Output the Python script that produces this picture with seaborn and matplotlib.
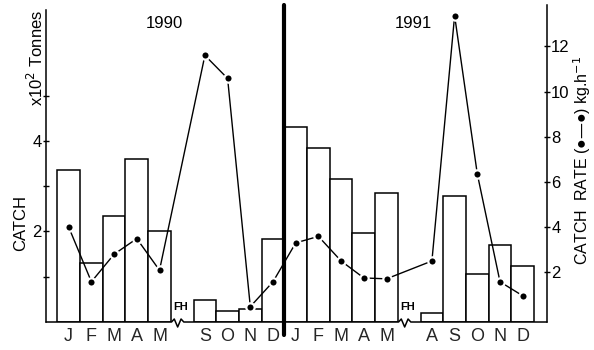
import numpy as np
import pandas as pd
import matplotlib
matplotlib.use("Agg")
import matplotlib.pyplot as plt
import seaborn as sns

sns.set_theme(style="white")
plt.rcParams["font.family"] = ["Liberation Sans", "DejaVu Sans"]

# ---- data ----
periods = ["Jan-90", "Feb-90", "Mar-90", "Apr-90", "May-90", "FH-90",
           "Sep-90", "Oct-90", "Nov-90", "Dec-90",
           "Jan-91", "Feb-91", "Mar-91", "Apr-91", "May-91", "FH-91",
           "Aug-91", "Sep-91", "Oct-91", "Nov-91", "Dec-91"]
month_labels = ["J", "F", "M", "A", "M", "", "S", "O", "N", "D",
                "J", "F", "M", "A", "M", "", "A", "S", "O", "N", "D"]
catch = [3.36, 1.30, 2.35, 3.60, 2.02, np.nan, 0.48, 0.24, 0.29, 1.83,
         4.31, 3.84, 3.15, 1.96, 2.85, np.nan, 0.19, 2.78, 1.05, 1.69, 1.24]
rate = [4.00, 1.58, 2.80, 3.49, 2.09, np.nan, 11.60, 10.58, 0.48, 1.58,
        3.30, 3.59, 2.50, 1.75, 1.71, np.nan, 2.50, 13.36, 6.35, 1.58, 0.96]
fh_periods = ["FH-90", "FH-91"]
year_labels = ["1990", "1991"]
left_ticks = [1, 2, 3, 4, 5]
left_ticklabels = ["", "2", "", "4", ""]
right_ticks = [2, 4, 6, 8, 10, 12]

df = pd.DataFrame({"period": periods, "catch": catch, "rate": rate})
df["idx"] = np.arange(len(df))

fig = plt.figure(figsize=(5.94, 3.5), dpi=100)
ax = fig.add_axes([46 / 594, 1 - 322 / 350, (547 - 46) / 594, 317 / 350])

sns.barplot(data=df, x="period", y="catch", order=periods, color="white",
            edgecolor="black", linewidth=1.1, width=1.0, errorbar=None,
            saturation=1, ax=ax)
for p in list(ax.patches):
    h = p.get_height()
    if h is None or not np.isfinite(h) or h == 0:
        p.remove()
        continue
    p.set_facecolor("white")
    p.set_edgecolor("black")

ax.set_xlim(-1.0, 21.07)
ax.set_ylim(0, 7.0)
ax.set_xticks(df["idx"])
ax.set_xticklabels(month_labels, fontsize=13)
ax.tick_params(axis="x", length=0, pad=4)
ax.set_yticks(left_ticks)
ax.set_yticklabels(left_ticklabels, fontsize=12)
ax.tick_params(axis="y", direction="inout", length=4, width=1, pad=1, left=True,
               color="black", labelcolor="black")
ax.set_xlabel("")
ax.set_ylabel("")
for s in ["top", "right", "bottom"]:
    ax.spines[s].set_visible(False)
ax.spines["left"].set_color("black")
ax.spines["left"].set_linewidth(1.1)
ax.spines["left"].set_bounds(0, 6.88)

ax2 = ax.twinx()
line_df = df.dropna(subset=["rate"])
sns.lineplot(data=line_df, x="idx", y="rate", color="black", linewidth=1.0,
             marker="o", markersize=6, markerfacecolor="black",
             markeredgecolor="white", markeredgewidth=1.6, ax=ax2, sort=True)
ax2.set_ylim(-0.2, 13.83)
ax2.set_xlim(-1.0, 21.07)
ax2.set_yticks(right_ticks)
ax2.set_yticklabels([str(t) for t in right_ticks], fontsize=12)
ax2.tick_params(axis="y", direction="inout", length=4, width=1, pad=1, right=True,
                color="black", labelcolor="black")
ax2.set_xlabel("")
ax2.set_ylabel("")
for s in ["top", "left", "bottom"]:
    ax2.spines[s].set_visible(False)
ax2.spines["right"].set_color("black")
ax2.spines["right"].set_linewidth(1.1)

# baseline with axis breaks (zigzag) at the fishing holiday gaps
tr = ax.get_xaxis_transform()
u = 1 / 317  # one pixel in axes fraction
xs, ys = [-1.0], [0]
for fp in fh_periods:
    c = periods.index(fp) - 0.2
    xs += [c - 0.27, c - 0.15, c, c + 0.15, c + 0.27]
    ys += [0, 3 * u, -5 * u, 3 * u, 0]
xs.append(21.07)
ys.append(0)
ax.plot(xs, ys, color="black", lw=1.1, transform=tr, clip_on=False, zorder=5)

for fp in fh_periods:
    ax.text(periods.index(fp) - 0.05, 0.33, "FH", fontsize=8, fontweight="bold",
            ha="center", va="center", color="black")

# year separator
ax.axvline(9.5, ymin=-0.041, ymax=1.0, color="black", lw=3, clip_on=False, zorder=6)

# year labels
ax.text(4.2, 6.6, year_labels[0], fontsize=12, ha="center", va="center", color="black")
ax.text(15.2, 6.6, year_labels[1], fontsize=12, ha="center", va="center", color="black")

# axis titles
fig.text(21 / 594, 1 - 223 / 350, "CATCH", rotation=90, ha="center", va="center",
         fontsize=12, color="black")
fig.text(36 / 594, 1 - 58 / 350, r"x10$^{2}$ Tonnes", rotation=90, ha="center",
         va="center", fontsize=12, color="black")
fig.text(582 / 594, 1 - 160 / 350, "CATCH  RATE (\u25cf\u2014\u25cf) kg.h$^{-1}$",
         rotation=90, ha="center", va="center", fontsize=11.5, color="black",
         family=["Liberation Sans", "DejaVu Sans"])

fig.savefig("out.png", dpi=100, facecolor="white")
